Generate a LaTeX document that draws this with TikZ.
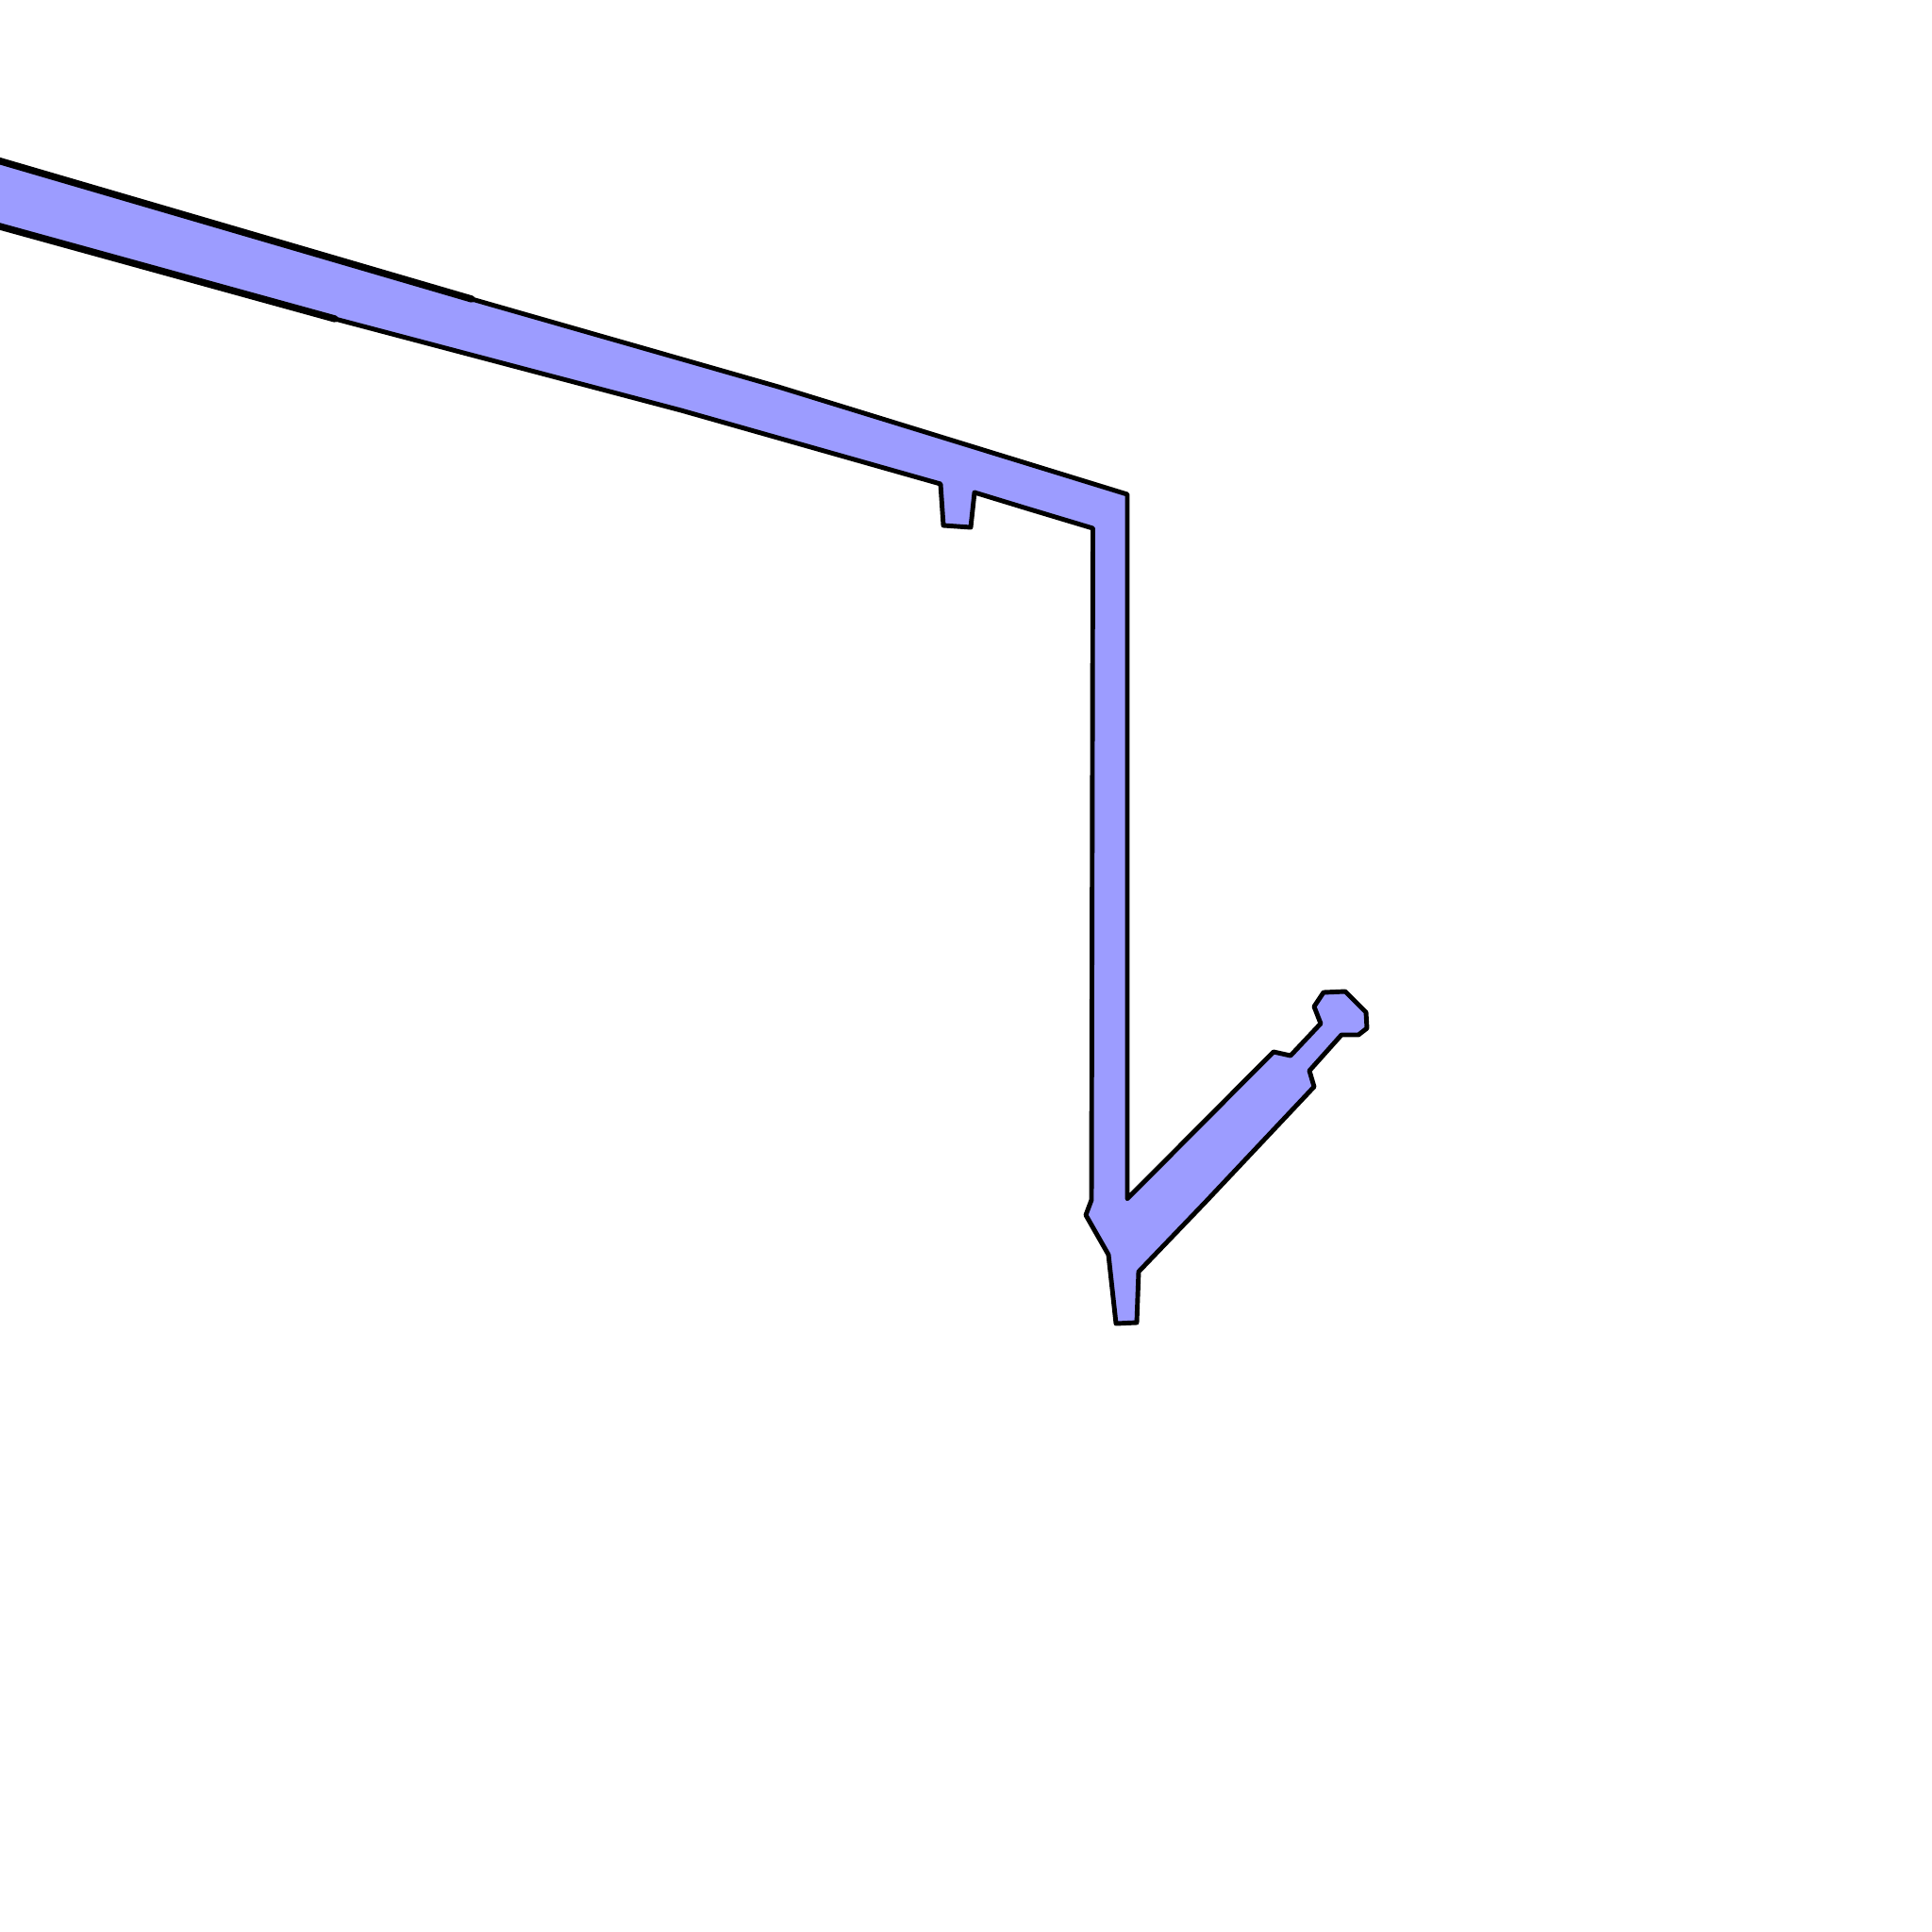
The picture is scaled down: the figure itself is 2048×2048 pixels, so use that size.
\documentclass[tikz,border=0pt]{standalone}
\usepackage{tikz}
\definecolor{armfill}{RGB}{156,156,255}

\begin{document}
\begin{tikzpicture}[x=0.01cm, y=-0.01cm]
            \useasboundingbox (0,0) rectangle (2048,2048);
            \clip (0,0) rectangle (2048,2048);

            % Contorno del brazo
            \filldraw[fill=armfill, draw=black, line width=1.4pt, line join=round]
                (-40,159) -- (500,317) -- (825,410) -- (1195,524)
                -- (1195,1270.7) -- (1350,1115) -- (1368,1119) -- (1400,1085)
                -- (1393,1067) -- (1403,1052) -- (1426,1051) -- (1448,1073)
                -- (1449,1090) -- (1440,1097) -- (1422,1097) -- (1388,1135)
                -- (1393,1152) -- (1278,1274) -- (1207,1348) -- (1205,1402)
                -- (1183,1403) -- (1175,1330) -- (1151,1288) -- (1157,1272)
                -- (1158.5,560) -- (1092,540) -- (1033,522) -- (1029,559)
                -- (1000,557) -- (997,513) -- (722,435) -- (355,338)
                -- (-40,229) -- (-80,194) -- cycle;

            % Tramos izquierdos (trazo grueso)
            \draw[black, line width=2.1pt, line cap=round] (-40,159) -- (500,317);
            \draw[black, line width=2.1pt, line cap=round] (-40,229) -- (355,338);
        \end{tikzpicture}
\end{document}
